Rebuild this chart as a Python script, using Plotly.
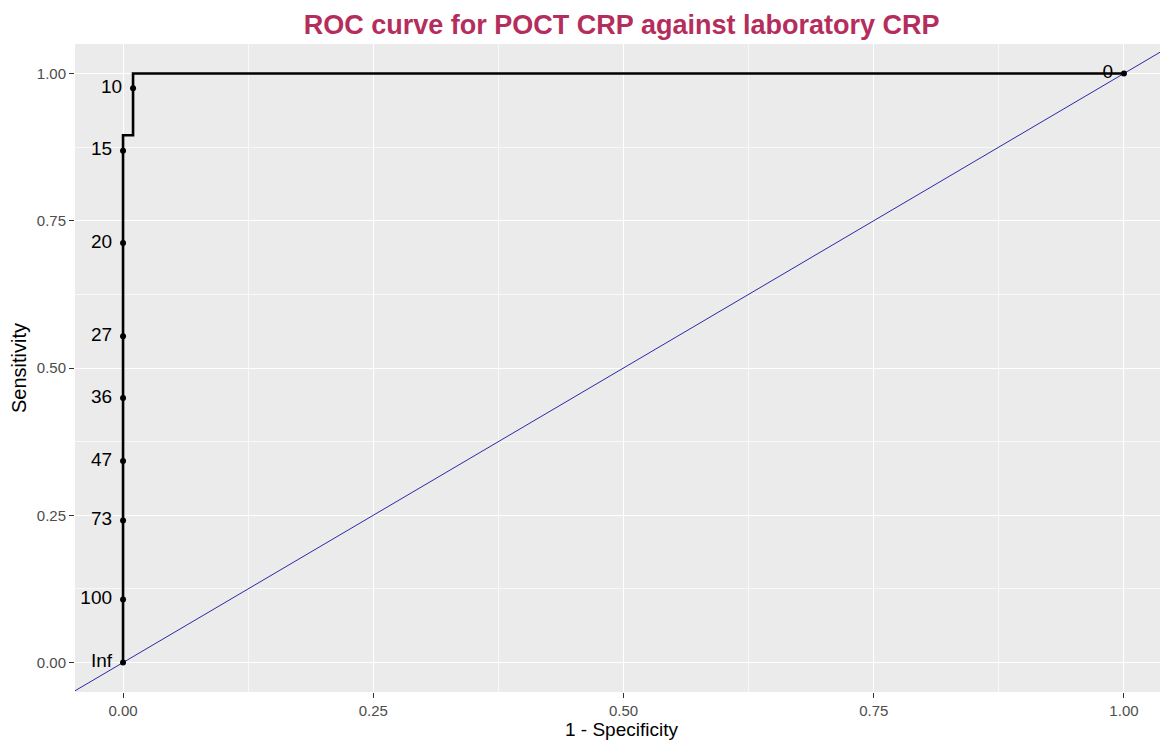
import plotly.graph_objects as go

# ROC step curve (1 - specificity, sensitivity)
curve_fpr = [0.0, 0.0, 0.01, 0.01, 1.0]
curve_tpr = [0.0, 0.895, 0.895, 1.0, 1.0]

# Labelled cut-off points
cut_labels = ["Inf", "100", "73", "47", "36", "27", "20", "15", "10", "0"]
cut_fpr = [0.0, 0.0, 0.0, 0.0, 0.0, 0.0, 0.0, 0.0, 0.01, 1.0]
cut_tpr = [0.0, 0.107, 0.241, 0.342, 0.449, 0.554, 0.712, 0.869, 0.975, 1.0]

# Reference diagonal
diag = [-0.1, 1.1]

tick_vals = [0.0, 0.25, 0.5, 0.75, 1.0]
tick_text = ["0.00", "0.25", "0.50", "0.75", "1.00"]
minor_vals = [0.125, 0.375, 0.625, 0.875]

FONT = "Liberation Sans, Arial, sans-serif"

fig = go.Figure()
fig.add_trace(go.Scatter(x=diag, y=diag, mode="lines",
                         line=dict(color="#2a2aa8", width=1), hoverinfo="skip"))
fig.add_trace(go.Scatter(x=curve_fpr, y=curve_tpr, mode="lines",
                         line=dict(color="black", width=2.6)))
# labels (offset via an invisible larger marker)
fig.add_trace(go.Scatter(x=cut_fpr, y=cut_tpr, mode="markers+text",
                         text=cut_labels, textposition="middle left",
                         textfont=dict(family=FONT, size=19, color="black"),
                         marker=dict(color="rgba(0,0,0,0)", size=16),
                         cliponaxis=False, hoverinfo="skip"))
fig.add_trace(go.Scatter(x=cut_fpr, y=cut_tpr, mode="markers",
                         marker=dict(color="black", size=6), cliponaxis=False))

axis_common = dict(
    tickvals=tick_vals, ticktext=tick_text,
    ticks="outside", ticklen=5, tickwidth=1, tickcolor="#333333",
    tickfont=dict(family=FONT, size=15, color="#4D4D4D"),
    showgrid=True, gridcolor="white", gridwidth=1.4,
    zeroline=False, showline=False,
    minor=dict(tickvals=minor_vals, showgrid=True,
               gridcolor="#F8F8F8", gridwidth=0.7, ticks=""),
)

fig.update_layout(
    width=1160, height=743,
    margin=dict(l=67, r=0, t=36, b=59),
    paper_bgcolor="white", plot_bgcolor="#EBEBEB",
    showlegend=False,
    title=dict(text="<b>ROC curve for POCT CRP against laboratory CRP</b>",
               x=0.529, xanchor="center", y=0.978, yanchor="middle",
               font=dict(family=FONT, size=27, color="#B52D5C")),
    xaxis=dict(range=[-0.048, 1.044],
               title=dict(text="1 - Specificity", standoff=4,
                          font=dict(family=FONT, size=19, color="black")),
               **axis_common),
    yaxis=dict(range=[-0.05, 1.05],
               title=dict(text="Sensitivity", standoff=4,
                          font=dict(family=FONT, size=20, color="black")),
               **axis_common),
)

fig.write_html("out.html")
